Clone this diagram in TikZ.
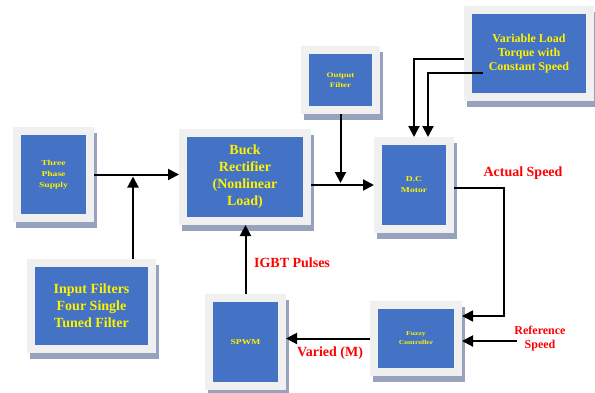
\documentclass[tikz,border=0pt]{standalone}
\usepackage{fontspec}
\setmainfont{Liberation Serif}
\newfontfamily\widefont[FakeStretch=1.28]{Liberation Serif}
\usetikzlibrary{arrows.meta}
\definecolor{boxblue}{HTML}{4472C4}
\definecolor{framegray}{HTML}{F0F0F0}
\definecolor{shadowgray}{HTML}{97A3BD}
\definecolor{labelred}{HTML}{FF0000}
\tikzset{
  blk/.style={fill=boxblue, draw=framegray, line width=8pt, outer sep=4pt, inner sep=0pt,
    text=yellow, align=center,
    preaction={fill=shadowgray, draw=shadowgray, line width=8pt, transform canvas={xshift=3pt, yshift=-6pt}}},
  bigtxt/.style={font=\fontsize{14}{17}\selectfont\bfseries},
  smalltxt/.style={font=\fontsize{7.5}{11}\selectfont\widefont\bfseries},
  lbl/.style={text=labelred, font=\fontsize{14}{17}\selectfont\bfseries, align=center},
}
\begin{document}
\begin{tikzpicture}[>={Triangle[length=11pt,width=11pt]}, x=1pt, y=-1pt, line width=2pt]
        \useasboundingbox (0,0) rectangle (595,392);
        % Blocks
        \node[blk, smalltxt, minimum width=73pt, minimum height=87pt] (supply) at (53.5,174.5) {Three\\Phase\\Supply};
        \node[blk, bigtxt, minimum width=124pt, minimum height=88pt] (buck) at (245,177) {Buck\\Rectifier\\(Nonlinear\\Load)};
        \node[blk, smalltxt, font=\fontsize{7}{10}\selectfont\widefont\bfseries, minimum width=71pt, minimum height=60pt] (filter) at (340.5,80) {Output\\Filter};
        \node[blk, font=\fontsize{12}{14}\selectfont\bfseries, minimum width=122pt, minimum height=87pt] (load) at (529,53.5) {Variable Load\\Torque with\\Constant Speed};
        \node[blk, smalltxt, minimum width=72pt, minimum height=88pt] (motor) at (414,185) {D.C\\Motor};
        \node[blk, smalltxt, font=\fontsize{6}{9}\selectfont\widefont\bfseries, minimum width=84pt, minimum height=67pt] (fuzzy) at (416,338.5) {Fuzzy\\Controller};
        \node[blk, smalltxt, minimum width=73pt, minimum height=88pt] (spwm) at (245.5,342) {SPWM};
        \node[blk, bigtxt, minimum width=121pt, minimum height=86pt] (input) at (91.5,306) {Input Filters\\Four Single\\Tuned Filter};

        % Free ends
        \coordinate (tap) at (133,174.5);
        \coordinate (refin) at (517,341);

        % Power path
        \draw[->] (supply.east) -- (supply.east -| buck.west);
        \draw[->, shorten >=2pt] (input.north -| tap) -- (tap);
        \draw[->] (buck.east |- motor.west) -- (motor.west);
        \draw[->, shorten >=2pt] (filter.south) -- (filter.south |- motor.west);
        \draw[->] ([yshift=-5.5pt]load.west) -| (motor.north);
        \draw[->] ([xshift=19pt, yshift=-19.5pt]load.west) -| ([xshift=14pt]motor.north);

        % Control loop
        \draw[->, line width=1.5pt] ([yshift=-3pt]motor.east) -- ++(50,0) |- ([yshift=22.5pt]fuzzy.east);
        \draw[->] (refin) -- (refin -| fuzzy.east);
        \draw[->] (fuzzy.west) -- (fuzzy.west -| spwm.east);
        \draw[->] (spwm.north) -- (spwm.north |- buck.south);

        % Labels
        \node[lbl] (actual) at (523,173) {Actual Speed};
        \node[lbl] (igbt) at (292,263) {IGBT Pulses};
        \node[lbl] (varied) at (330,353) {Varied (M)};
        \node[lbl, font=\fontsize{12}{14}\selectfont\bfseries] (refspeed) at (540,339) {Reference\\Speed};
\end{tikzpicture}
\end{document}
